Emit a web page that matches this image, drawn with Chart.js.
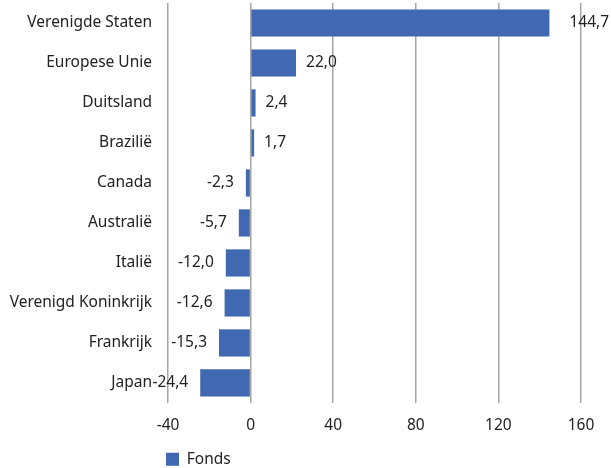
<!DOCTYPE html>
<html>
<head>
<meta charset="utf-8">
<script src="https://cdn.jsdelivr.net/npm/chart.js@4/dist/chart.umd.min.js"></script>
<style>
  html, body { margin: 0; padding: 0; background: #fff; }
  #wrap { width: 611px; height: 468px; }
</style>
</head>
<body>
<div id="wrap"><canvas id="fondsChart"></canvas></div>
<script>
var countries = ["Verenigde Staten", "Europese Unie", "Duitsland", "Brazilië", "Canada",
  "Australië", "Italië", "Verenigd Koninkrijk", "Frankrijk", "Japan"];
var fonds = [144.7, 22.0, 2.4, 1.7, -2.3, -5.7, -12.0, -12.6, -15.3, -24.4];
var xTicks = [-40, 0, 40, 80, 120, 160];

var blue = '#4169B2';
var fontFam = '"Noto Sans", "Open Sans", sans-serif';

// waardelabels naast de balken, komma als decimaalteken
var valueLabels = {
  id: 'valueLabels',
  afterLayout: function(chart) {
    // legenda iets naar links en omlaag
    chart.legend.left -= 5;
    chart.legend.right -= 5;
    chart.legend.top += 9;
    chart.legend.bottom += 9;
  },
  afterDatasetsDraw: function(chart) {
    var ctx = chart.ctx;
    var meta = chart.getDatasetMeta(0);
    ctx.save();
    ctx.font = '15.5px ' + fontFam;
    ctx.fillStyle = '#222';
    ctx.textBaseline = 'middle';
    meta.data.forEach(function(bar, i) {
      var v = fonds[i];
      var txt = v.toFixed(1).replace('.', ',');
      if (v >= 0) {
        ctx.textAlign = 'left';
        ctx.fillText(txt, bar.x + (v > 100 ? 20 : 10), bar.y);
      } else {
        ctx.textAlign = 'right';
        ctx.fillText(txt, bar.x - 12, bar.y);
      }
    });
    ctx.restore();
  }
};

new Chart(document.getElementById('fondsChart'), {
  type: 'bar',
  data: {
    labels: countries,
    datasets: [{
      label: 'Fonds',
      data: fonds,
      backgroundColor: blue,
      borderWidth: 0,
      barPercentage: 0.68,
      categoryPercentage: 1.0
    }]
  },
  options: {
    indexAxis: 'y',
    responsive: true,
    maintainAspectRatio: false,
    animation: false,
    layout: { padding: { top: 3, right: 30, left: 0, bottom: 0 } },
    scales: {
      x: {
        min: -40,
        max: 160,
        afterBuildTicks: function(axis) {
          axis.ticks = xTicks.map(function(v) { return { value: v }; });
        },
        afterFit: function(scale) {
          scale.height -= 8;
        },
        grid: { color: '#a6a6a6', lineWidth: 1.5, drawTicks: false },
        border: { display: false },
        ticks: {
          color: '#222',
          padding: 13,
          font: { family: fontFam, size: 15.5 }
        }
      },
      y: {
        afterFit: function(scale) {
          scale.width = 168;
          scale.paddingTop = 0;
          scale.paddingBottom = 0;
        },
        grid: { display: false },
        border: { display: false },
        ticks: {
          color: '#222',
          padding: 8,
          font: { family: fontFam, size: 15.5 }
        }
      }
    },
    plugins: {
      legend: {
        position: 'bottom',
        align: 'start',
        fullSize: false,
        labels: {
          boxWidth: 13,
          boxHeight: 13,
          padding: 3,
          color: '#222',
          font: { family: fontFam, size: 15.5 }
        }
      },
      tooltip: { enabled: false }
    }
  },
  plugins: [valueLabels]
});
</script>
</body>
</html>
